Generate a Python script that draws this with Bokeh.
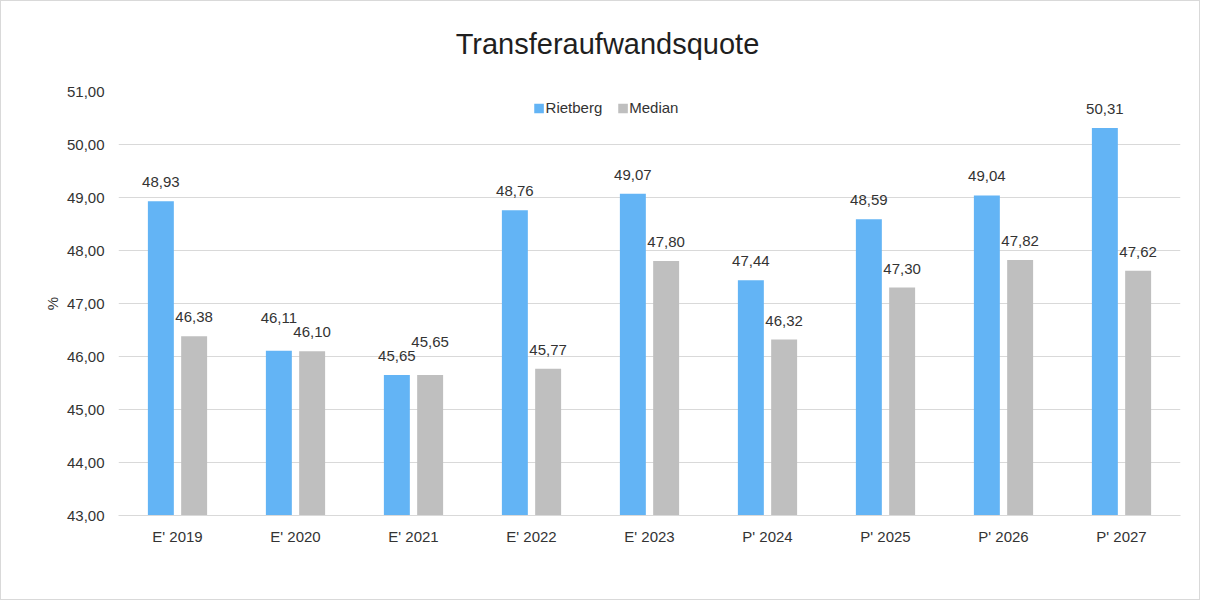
from bokeh.plotting import figure
from bokeh.models import (ColumnDataSource, FactorRange, Range1d, FixedTicker, Legend,
                          LegendItem, CustomJSTickFormatter, LinearAxis)
from bokeh.transform import dodge
from bokeh.embed import file_html
from bokeh.resources import INLINE
from bokeh.core.properties import value

categories = ["E' 2019", "E' 2020", "E' 2021", "E' 2022", "E' 2023",
              "P' 2024", "P' 2025", "P' 2026", "P' 2027"]
rietberg = [48.93, 46.11, 45.65, 48.76, 49.07, 47.44, 48.59, 49.04, 50.31]
median = [46.38, 46.10, 45.65, 45.77, 47.80, 46.32, 47.30, 47.82, 47.62]
series_names = ["Rietberg", "Median"]
y_ticks = [43, 44, 45, 46, 47, 48, 49, 50, 51]
title_text = "Transferaufwandsquote"
y_label = "%"

FONT = "Liberation Sans"
TXT = "#333333"
BLUE = "#63B4F5"
GRAY = "#BFBFBF"
GRID = "#D9D9D9"

# layout (page pixels)
FRAME_L, FRAME_R = 118, 1180
TITLE_CENTER = 607
# title anchor in the categorical axis' synthetic units (one unit per category)
TITLE_X = (TITLE_CENTER - FRAME_L) / (FRAME_R - FRAME_L) * len(categories)


def fmt(v):
    return f"{v:.2f}".replace(".", ",")


# Excel-like label collision handling: when the two labels of a category overlap,
# push one of them up.
BASE_OFF = 19
SHIFT = 14
r_off, m_off = [], []
for r, m in zip(rietberg, median):
    if abs(r - m) < 0.3:
        if r > m:
            r_off.append(-(BASE_OFF + SHIFT)); m_off.append(-BASE_OFF)
        else:
            r_off.append(-BASE_OFF); m_off.append(-(BASE_OFF + SHIFT))
    else:
        r_off.append(-BASE_OFF); m_off.append(-BASE_OFF)

source = ColumnDataSource(dict(
    cat=categories, r=rietberg, m=median,
    r_lab=[fmt(v) for v in rietberg], m_lab=[fmt(v) for v in median],
    r_off=r_off, m_off=m_off,
))

p = figure(x_range=FactorRange(*categories), y_range=Range1d(y_ticks[0], y_ticks[-1]),
           width=1200, height=600, output_backend="svg", toolbar_location=None,
           min_border_left=117, min_border_right=21, min_border_top=90, min_border_bottom=86)

p.outline_line_color = None
p.background_fill_color = "white"
p.border_fill_color = "white"
p.styles = {"border": "1px solid #D9D9D9"}

off = 0.141
w = 0.22
rb = p.vbar(x=dodge("cat", -off, range=p.x_range), top="r", bottom=y_ticks[0], width=w,
            source=source, fill_color=BLUE, line_color=None)
mb = p.vbar(x=dodge("cat", off, range=p.x_range), top="m", bottom=y_ticks[0], width=w,
            source=source, fill_color=GRAY, line_color=None)

common = dict(source=source, text_align="center", text_baseline="middle",
              text_font=value(FONT), text_font_size="15px", text_color=TXT)
p.text(x=dodge("cat", -off, range=p.x_range), y="r", text="r_lab", y_offset="r_off", **common)
p.text(x=dodge("cat", off, range=p.x_range), y="m", text="m_lab", y_offset="m_off", **common)

# grid
p.xgrid.grid_line_color = None
p.ygrid.grid_line_color = GRID
p.ygrid.grid_line_width = 1
p.ygrid.ticker = FixedTicker(ticks=y_ticks)

# y axis
p.yaxis.ticker = FixedTicker(ticks=y_ticks)
p.yaxis.formatter = CustomJSTickFormatter(code="return tick.toFixed(2).replace('.', ',');")
p.yaxis.axis_line_color = None
p.yaxis.major_tick_line_color = None
p.yaxis.minor_tick_line_color = None
p.yaxis.major_tick_out = 0
p.yaxis.minor_tick_out = 0
p.yaxis.major_label_standoff = 14
p.yaxis.major_label_text_font = FONT
p.yaxis.major_label_text_font_size = "15px"
p.yaxis.major_label_text_color = TXT
p.yaxis.axis_label = y_label
p.yaxis.axis_label_text_font = FONT
p.yaxis.axis_label_text_font_size = "15px"
p.yaxis.axis_label_text_font_style = "normal"
p.yaxis.axis_label_text_color = TXT
p.yaxis.axis_label_standoff = 3

# x axis
p.xaxis.axis_line_color = GRID
p.xaxis.axis_line_width = 1
p.xaxis.major_tick_line_color = None
p.xaxis.minor_tick_line_color = None
p.xaxis.major_tick_out = 0
p.xaxis.minor_tick_out = 0
p.xaxis.major_label_standoff = 12
p.xaxis.major_label_text_font = FONT
p.xaxis.major_label_text_font_size = "15px"
p.xaxis.major_label_text_color = TXT

# chart title as the single label of a bare axis above the frame
title_axis = LinearAxis(ticker=FixedTicker(ticks=[TITLE_X]),
                        formatter=CustomJSTickFormatter(args=dict(t=title_text), code="return t;"),
                        axis_line_color=None, major_tick_line_color=None,
                        minor_tick_line_color=None, major_tick_out=0, minor_tick_out=0,
                        major_label_standoff=32,
                        major_label_text_font=FONT, major_label_text_font_size="29px",
                        major_label_text_color="#1F1F1F")
p.add_layout(title_axis, "above")

legend = Legend(items=[LegendItem(label=series_names[0], renderers=[rb]),
                       LegendItem(label=series_names[1], renderers=[mb])],
                orientation="horizontal", location="top_center",
                title=" ", title_location="right", title_standoff=76,
                title_text_font_size="10px",
                border_line_color=None, background_fill_alpha=0, padding=0, margin=8,
                glyph_width=12, glyph_height=12, label_standoff=1, spacing=14,
                label_text_font=FONT, label_text_font_size="15px", label_text_color=TXT)
p.add_layout(legend)

open("out.html", "w").write(file_html(p, INLINE))
